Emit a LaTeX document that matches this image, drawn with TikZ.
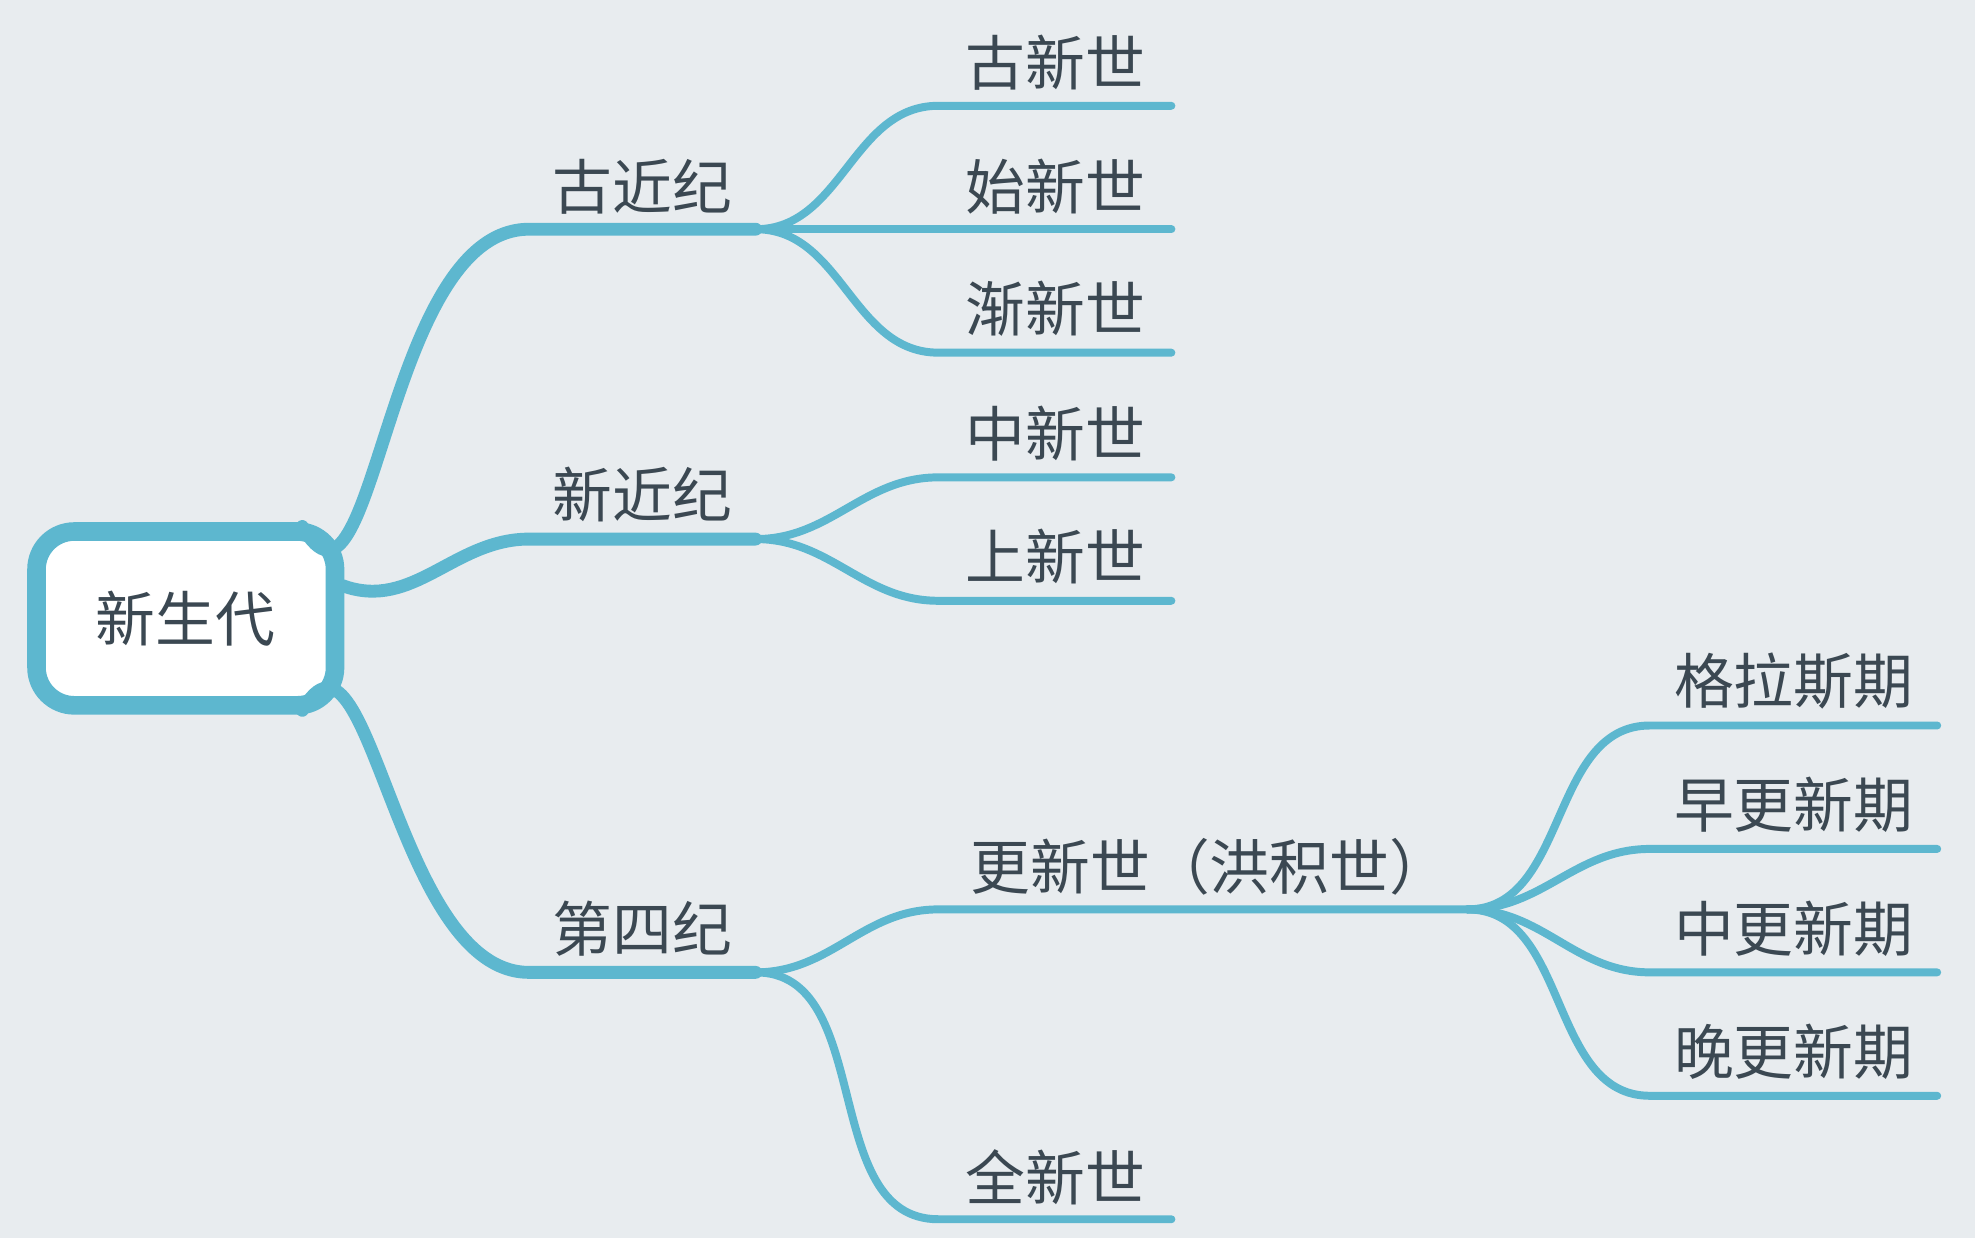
\documentclass[tikz,border=0pt]{standalone}
\usepackage{fontspec}
\newfontfamily\cjk{Noto Sans CJK SC}
\definecolor{bg}{HTML}{E8ECEF}
\definecolor{branch}{HTML}{5DB7CF}
\definecolor{ink}{HTML}{3B4852}
\tikzset{
  main/.style={draw=branch,line width=2.9pt,line cap=round},
  sub/.style={draw=branch,line width=1.8pt,line cap=round},
  lbl/.style={text=ink,font=\cjk\fontsize{13.5}{16}\selectfont,inner sep=0pt}
}
\begin{document}
\begin{tikzpicture}[x=0.01cm,y=-0.01cm]
    \fill[bg] (0,0) rectangle (1568,983);
    \useasboundingbox (0,0) rectangle (1568,983);

    \node [draw=branch,line width=4pt,fill=white,rounded corners=14pt,
           minimum width=240\pgflinewidth/4,text width=0pt] at (-1000,-1000) {};
    \draw [branch,line width=4.2pt,fill=white,rounded corners=0.3cm] (29,422) rectangle (266,560);
    \node [lbl] (root) at (147,491) {新生代};
    \coordinate (rt) at (240,418);
    \coordinate (rm) at (272,465);
    \coordinate (rb) at (240,564);

    % first level
    \coordinate (p1) at (600,182);
    \coordinate (p2) at (600,428);
    \coordinate (p3) at (600,772);
    \draw[main] (rt) to[out=-60,in=180] (420,182) -- (p1);
    \draw[main] (rm) to[out=-20,in=180] (420,428) -- (p2);
    \draw[main] (rb) to[out=60,in=180] (420,772) -- (p3);
    \node [lbl] (gujin) at (510,148) {古近纪};
    \node [lbl] (xinjin) at (510,393) {新近纪};
    \node [lbl] (disi) at (510,737) {第四纪};

    % second level
    \coordinate (e1) at (930,84);
    \coordinate (e2) at (930,182);
    \coordinate (e3) at (930,280);
    \coordinate (e4) at (930,379);
    \coordinate (e5) at (930,477);
    \coordinate (p4) at (1165,722);
    \coordinate (e6) at (930,968);
    \draw[sub] (p1) to[out=0,in=180] (745,84) -- (e1);
    \draw[sub] (p1) -- (e2);
    \draw[sub] (p1) to[out=0,in=180] (745,280) -- (e3);
    \draw[sub] (p2) to[out=0,in=180] (745,379) -- (e4);
    \draw[sub] (p2) to[out=0,in=180] (745,477) -- (e5);
    \draw[sub] (p3) to[out=0,in=180] (745,722) -- (p4);
    \draw[sub] (p3) to[out=0,in=180] (745,968) -- (e6);
    \node [lbl] (guxin) at (838,50) {古新世};
    \node [lbl] (shixin) at (838,148) {始新世};
    \node [lbl] (jianxin) at (838,245) {渐新世};
    \node [lbl] (zhongxin) at (838,344) {中新世};
    \node [lbl] (shangxin) at (838,442) {上新世};
    \node [lbl,anchor=west] (gengxin) at (770,688) {更新世（洪积世）};
    \node [lbl] (quanxin) at (838,935) {全新世};

    % third level
    \coordinate (f1) at (1538,576);
    \coordinate (f2) at (1538,674);
    \coordinate (f3) at (1538,772);
    \coordinate (f4) at (1538,870);
    \draw[sub] (p4) to[out=0,in=180] (1310,576) -- (f1);
    \draw[sub] (p4) to[out=0,in=180] (1310,674) -- (f2);
    \draw[sub] (p4) to[out=0,in=180] (1310,772) -- (f3);
    \draw[sub] (p4) to[out=0,in=180] (1310,870) -- (f4);
    \node [lbl] (gelasi) at (1424,541) {格拉斯期};
    \node [lbl] (zaogeng) at (1424,639) {早更新期};
    \node [lbl] (zhonggeng) at (1424,737) {中更新期};
    \node [lbl] (wangeng) at (1424,835) {晚更新期};
\end{tikzpicture}
\end{document}
